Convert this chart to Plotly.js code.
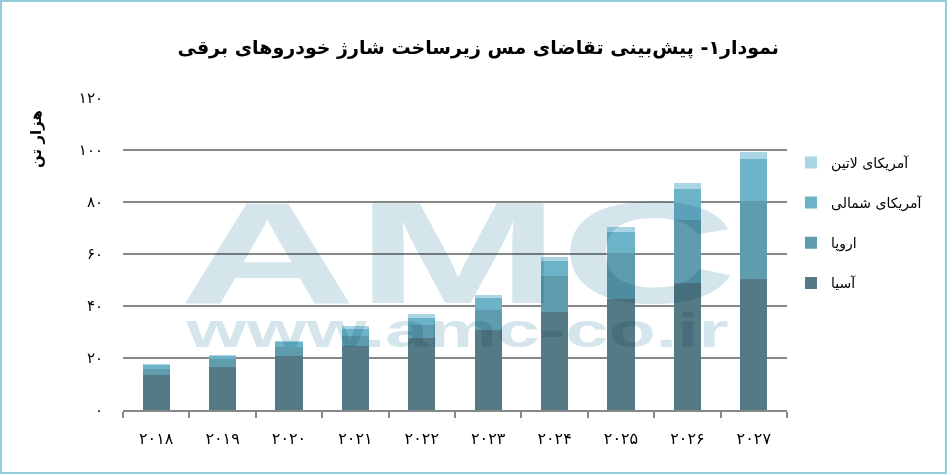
<!DOCTYPE html>
<html>
<head>
<meta charset="utf-8">
<script src="https://cdn.plot.ly/plotly-3.0.1.min.js"></script>
<style>
  html, body { margin: 0; padding: 0; background: #ffffff; }
  #chart { width: 947px; height: 474px; box-sizing: border-box; border: 2px solid #93CDDD; }
</style>
</head>
<body>
<div id="chart"></div>
<script>
// ---- data ----
const years = ['۲۰۱۸', '۲۰۱۹', '۲۰۲۰', '۲۰۲۱', '۲۰۲۲', '۲۰۲۳', '۲۰۲۴', '۲۰۲۵', '۲۰۲۶', '۲۰۲۷'];
const asia          = [13.5, 16.5, 20.9, 24.6, 27.8, 30.8, 37.7, 42.7, 48.7, 50.4];
const europe        = [2.2, 3.3, 3.4, 3.9, 4.9, 7.7, 13.8, 17.6, 24.4, 30.0];
const northAmerica  = [1.5, 1.0, 1.7, 2.5, 2.6, 4.5, 5.8, 8.2, 11.9, 16.1];
const latinAmerica  = [0.5, 0.4, 0.5, 1.3, 1.5, 1.2, 1.7, 1.9, 2.2, 2.8];
const seriesNames   = ['آسیا', 'اروپا', 'آمریکای شمالی', 'آمریکای لاتین'];
const yTickVals     = [0, 20, 40, 60, 80, 100, 120];
const yTickText     = ['۰', '۲۰', '۴۰', '۶۰', '۸۰', '۱۰۰', '۱۲۰'];
const chartTitle    = 'نمودار۱- پیش‌بینی تقاضای مس زیرساخت شارژ خودروهای برقی';
const yTitle        = 'هزار تن';

const FONT = 'DejaVu Sans, Noto Sans, sans-serif';
const colors = ['#547A86', '#5E9CAE', '#6DB3C8', '#A9D6E2'];
const values = [asia, europe, northAmerica, latinAmerica];

const traces = values.map((v, i) => ({
  type: 'bar',
  x: years,
  y: v,
  name: seriesNames[i],
  legendgroup: 'g' + i,
  legendrank: 10 - i,
  marker: { color: colors[i] },
  hoverinfo: 'skip'
}));

const layout = {
  width: 943,
  height: 470,
  margin: { l: 121, r: 158, t: 96, b: 62 },
  paper_bgcolor: '#ffffff',
  plot_bgcolor: '#ffffff',
  barmode: 'stack',
  bargap: 0.59,
  font: { family: FONT, color: '#000000', size: 15 },
  title: {
    text: chartTitle,
    font: { family: FONT, size: 19, color: '#000000', weight: 'bold' },
    x: 0.505, xanchor: 'center',
    y: 0.904, yanchor: 'middle'
  },
  xaxis: {
    type: 'category',
    showgrid: false,
    showline: true,
    linecolor: '#878787',
    linewidth: 2,
    ticks: 'outside',
    tickson: 'boundaries',
    ticklen: 6,
    tickwidth: 2,
    tickcolor: '#878787',
    ticklabelstandoff: 13,
    tickfont: { family: FONT, size: 16, color: '#000000' },
    fixedrange: true
  },
  yaxis: {
    range: [0, 120],
    tickvals: yTickVals,
    ticktext: yTickText,
    showgrid: true,
    gridcolor: '#878787',
    gridwidth: 2,
    zeroline: false,
    showline: false,
    ticks: '',
    ticklabelstandoff: 19,
    tickfont: { family: FONT, size: 15, color: '#000000' },
    fixedrange: true
  },
  legend: {
    x: 1.006, xanchor: 'left',
    y: 0.6, yanchor: 'middle',
    traceorder: 'grouped',
    tracegroupgap: 19,
    font: { family: FONT, size: 14, color: '#000000' },
    bgcolor: 'rgba(0,0,0,0)'
  },
  annotations: [
    {
      text: yTitle, xref: 'paper', yref: 'paper',
      x: -0.131, y: 0.869, xanchor: 'center', yanchor: 'middle',
      textangle: -90, showarrow: false,
      font: { family: FONT, size: 15, color: '#000000', weight: 'bold' }
    },
    {
      text: 'AMC', xref: 'paper', yref: 'paper',
      x: 0.505, y: 0.504, xanchor: 'center', yanchor: 'middle',
      showarrow: false,
      font: { family: 'Liberation Sans, Arial, sans-serif', size: 145, color: '#D4E6EC', weight: 'bold' }
    },
    {
      text: 'www.amc-co.ir', xref: 'paper', yref: 'paper',
      x: 0.503, y: 0.255, xanchor: 'center', yanchor: 'middle',
      showarrow: false,
      font: { family: 'Liberation Sans, Arial, sans-serif', size: 48, color: '#D4E6EC', weight: 'bold' }
    }
  ]
};

Plotly.newPlot('chart', traces, layout, { displayModeBar: false, staticPlot: true }).then(() => {
  const stretch = { 'AMC': 558, 'www.amc-co.ir': 542 };
  document.querySelectorAll('#chart .annotation').forEach(g => {
    const t = g.querySelector('text.annotation-text');
    if (!t) return;
    const s = t.textContent;
    if (stretch[s]) {
      t.setAttribute('textLength', stretch[s]);
      t.setAttribute('lengthAdjust', 'spacingAndGlyphs');
      g.style.mixBlendMode = 'multiply';
    }
  });
});
</script>
</body>
</html>
